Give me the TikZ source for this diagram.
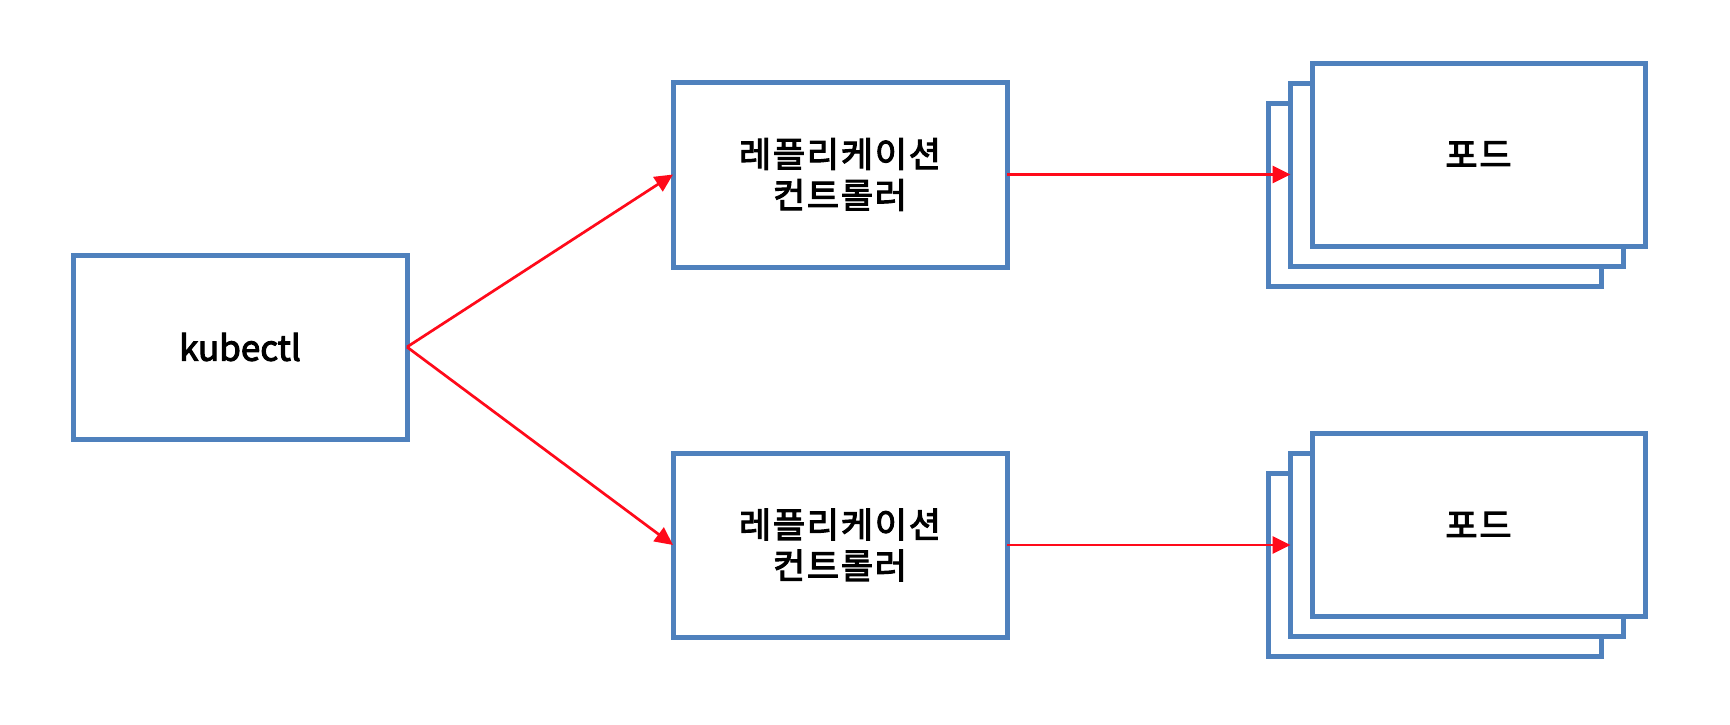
\documentclass[tikz,border=0pt]{standalone}
\usepackage{fontspec}
\setmainfont{Noto Sans CJK KR}
\newfontfamily\krfont{Noto Sans CJK KR}[FakeBold=3,LetterSpace=5]
\newfontfamily\latfont{Noto Sans CJK KR}[FakeBold=3]
\usetikzlibrary{arrows.meta}
\definecolor{boxblue}{HTML}{4F81BD}
\definecolor{arrred}{HTML}{FF0A1A}
\begin{document}
\begin{tikzpicture}[x=0.5pt,y=-0.5pt,
  box/.style={draw=boxblue, line width=2.5pt, fill=white, rectangle,
    inner sep=0pt, outer sep=0pt, minimum width=167pt, minimum height=92pt,
    align=center, font=\fontsize{17.5pt}{20.5pt}\krfont},
  podbox/.style={box, minimum width=166.5pt, minimum height=91.5pt},
  conn/.style={draw=arrred, line width=1.35pt, -{Triangle[length=9pt,width=8.5pt]}}]
\useasboundingbox (0,0) rectangle (1730,724);
\node[box, font=\fontsize{17.5pt}{20.5pt}\latfont] (kub) at (240,347) {kubectl};
\node[box, minimum height=92.5pt] (rc1) at (840,174.5) {레플리케이션\\컨트롤러};
\node[box] (rc2) at (840,545) {레플리케이션\\컨트롤러};
% top pod stack
\node[podbox] (pb1) at (1435,194.5) {};
\node[podbox] (pm1) at (1457,174.5) {};
\node[podbox] (pf1) at (1478.5,154.5) {포드};
% bottom pod stack
\node[podbox] (pb2) at (1435,565) {};
\node[podbox] (pm2) at (1457,545) {};
\node[podbox] (pf2) at (1478.5,525) {포드};
\draw[conn] (kub.east) -- (rc1.west);
\draw[conn] (kub.east) -- (rc2.west);
\draw[conn] (rc1.east) -- (pm1.west);
\draw[conn] (rc2.east) -- (pm2.west);
\end{tikzpicture}
\end{document}
